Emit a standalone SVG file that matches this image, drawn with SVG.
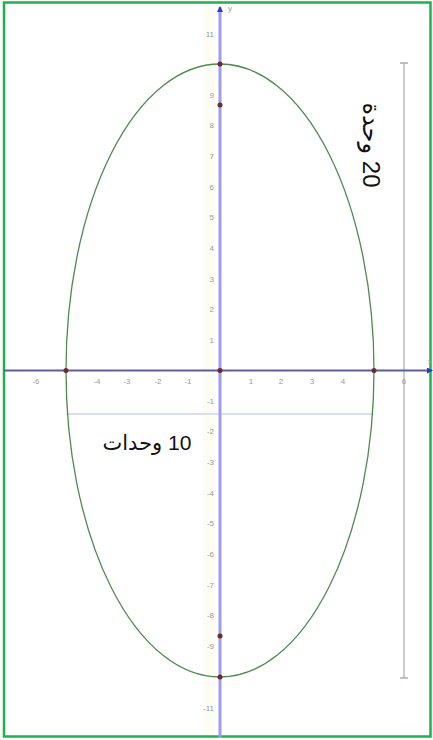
<svg xmlns="http://www.w3.org/2000/svg" width="433" height="740" viewBox="0 0 433 740">
<style>
.tick{font-family:"Liberation Sans","DejaVu Sans",sans-serif;font-size:8px;fill:#9a9a9a}
.tx{text-anchor:middle}
.ty{text-anchor:end}
.pt{fill:#6e2a2a}
.lbl{font-family:"Liberation Sans","DejaVu Sans",sans-serif;fill:#111}
</style>
<defs>
<marker id="ah" markerWidth="6" markerHeight="6" refX="5" refY="3" orient="auto" markerUnits="userSpaceOnUse">
<path d="M0,0 L6,3 L0,6 z" fill="#2a3acc"/>
</marker>
</defs>
<rect x="0" y="0" width="433" height="740" fill="#ffffff"/>
<rect x="203" y="4" width="12" height="732" fill="#fdfcee" opacity="0.6"/>
<g id="border"><rect x="4" y="2.5" width="426.5" height="734" fill="none" stroke="#1fb24a" stroke-width="2.5"/></g>
<g id="connectors">
<line x1="404" y1="63" x2="404" y2="678" stroke="#cacdd4" stroke-width="2"/>
<line x1="400" y1="63" x2="408" y2="63" stroke="#a8acb4" stroke-width="1.5"/>
<line x1="400" y1="678" x2="408" y2="678" stroke="#a8acb4" stroke-width="1.5"/>
<line x1="66" y1="414" x2="374" y2="414" stroke="#cdd6e6" stroke-width="1.5"/>
</g>
<g id="axes">
<line x1="220" y1="738" x2="220" y2="7" stroke="#9c9cf0" stroke-width="3" marker-end="url(#ah)"/>
<line x1="4" y1="370.5" x2="432" y2="370.5" stroke="#5e5e9e" stroke-width="2" marker-end="url(#ah)"/>
<text class="tick" x="228" y="11">y</text>
<text class="tick" x="428" y="364">x</text>
</g>
<g id="xticks" class="tick tx">
<text x="36" y="384">-6</text><text x="97" y="384">-4</text><text x="127" y="384">-3</text><text x="158" y="384">-2</text><text x="188" y="384">-1</text>
<text x="251" y="384">1</text><text x="281" y="384">2</text><text x="312" y="384">3</text><text x="343" y="384">4</text><text x="404" y="384">6</text>
</g>
<g id="yticks" class="tick ty">
<text x="214" y="37">11</text><text x="214" y="98">9</text><text x="214" y="128">8</text><text x="214" y="159">7</text><text x="214" y="190">6</text><text x="214" y="220">5</text><text x="214" y="251">4</text><text x="214" y="282">3</text><text x="214" y="312">2</text><text x="214" y="343">1</text>
<text x="214" y="404">-1</text><text x="214" y="434">-2</text><text x="214" y="465">-3</text><text x="214" y="496">-4</text><text x="214" y="526">-5</text><text x="214" y="557">-6</text><text x="214" y="588">-7</text><text x="214" y="618">-8</text><text x="214" y="649">-9</text><text x="214" y="711">-11</text>
</g>
<g id="ellipse"><ellipse cx="220" cy="370.5" rx="154" ry="306.5" fill="none" stroke="#4f8a4f" stroke-width="1.3"/></g>
<g id="points">
<circle class="pt" cx="220" cy="370.5" r="2.5"/>
<circle class="pt" cx="220" cy="64" r="2.5"/>
<circle class="pt" cx="220" cy="677" r="2.5"/>
<circle class="pt" cx="66" cy="370.5" r="2.5"/>
<circle class="pt" cx="374" cy="370.5" r="2.5"/>
<circle class="pt" cx="220" cy="105" r="2.5"/>
<circle class="pt" cx="220" cy="636" r="2.5"/>
</g>
<g id="label-width"><text class="lbl" x="147" y="450" font-size="21" text-anchor="middle" direction="rtl">10 وحدات</text></g>
<g id="label-height"><text class="lbl" transform="translate(363,145) rotate(90)" font-size="24" text-anchor="middle" direction="rtl">20 وحدة</text></g>
</svg>
